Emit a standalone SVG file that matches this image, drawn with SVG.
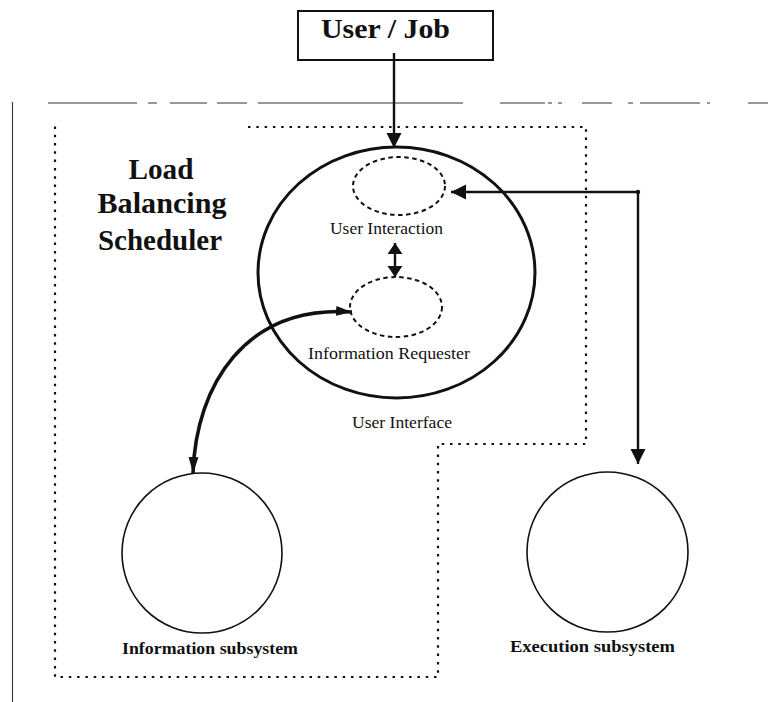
<svg xmlns="http://www.w3.org/2000/svg" width="768" height="702" viewBox="0 0 768 702">
<style>
  .bg { fill: #ffffff; }
  .serif { font-family: "Liberation Serif", "Times New Roman", serif; fill: #111; }
  .bold { font-weight: bold; }
  .thick { fill: none; stroke: #111; stroke-width: 3; }
  .thin { fill: none; stroke: #111; stroke-width: 1.6; }
  .dash-ell { fill: none; stroke: #111; stroke-width: 2; stroke-dasharray: 4.5 3.5; }
  .dotted { fill: none; stroke: #111; stroke-width: 2.2; stroke-dasharray: 2.5 5.8; }
  .rule { fill: none; stroke: #333; stroke-width: 1.1; }
  .conn { fill: none; stroke: #111; stroke-width: 2.4; }
  .curve { fill: none; stroke: #111; stroke-width: 3.6; }
</style>
<defs>
  <marker id="ah" markerUnits="userSpaceOnUse" markerWidth="16" markerHeight="16" refX="15" refY="7.5" orient="auto-start-reverse">
    <path d="M0,0 L15,7.5 L0,15 z" fill="#111"/>
  </marker>
  <marker id="ahs" markerUnits="userSpaceOnUse" markerWidth="16" markerHeight="16" refX="11" refY="7.5" orient="auto-start-reverse">
    <path d="M0,0 L11,7.5 L0,15 z" fill="#111"/>
  </marker>
  <marker id="ahc" markerUnits="userSpaceOnUse" markerWidth="18" markerHeight="12" refX="16" refY="5" orient="auto-start-reverse">
    <path d="M0,0 L16,5 L0,10 z" fill="#111"/>
  </marker>
</defs>
<rect class="bg" x="0" y="0" width="768" height="702"/>

<!-- page rules -->
<g id="frame">
  <line class="rule" x1="12.5" y1="102" x2="12.5" y2="702"/>
  <path class="rule" d="M48,103 H137 M148,103 H157 M170,103 H207 M217,103 H247 M258,103 H463 M500,103 H545 M548,103 H552 M558,103 H562 M582,103 H612 M628,103 H633 M640,103 H700 M707,103 H710 M748,103 H768"/>
</g>

<!-- scheduler boundary -->
<g id="scheduler-boundary">
  <path class="dotted" d="M248,127 H586 V444 H438 V677 H55 V125"/>
</g>

<g id="scheduler-label">
  <text class="serif bold" x="161" y="179" font-size="29" text-anchor="middle" textLength="65" lengthAdjust="spacingAndGlyphs">Load</text>
  <text class="serif bold" x="162" y="213" font-size="29" text-anchor="middle" textLength="129" lengthAdjust="spacingAndGlyphs">Balancing</text>
  <text class="serif bold" x="160" y="250" font-size="29" text-anchor="middle" textLength="124" lengthAdjust="spacingAndGlyphs">Scheduler</text>
</g>

<g id="user-job">
  <rect x="298" y="11" width="195" height="49" fill="#fff" stroke="#111" stroke-width="2"/>
  <text class="serif bold" x="385.5" y="38" font-size="28" text-anchor="middle" textLength="129" lengthAdjust="spacingAndGlyphs">User / Job</text>
</g>

<g id="user-interface">
  <ellipse class="thick" cx="396.5" cy="272.5" rx="138.5" ry="125.5"/>
  <text class="serif" x="402" y="428" font-size="17.5" text-anchor="middle" textLength="100" lengthAdjust="spacingAndGlyphs">User Interface</text>
</g>

<g id="user-interaction">
  <ellipse class="dash-ell" cx="399" cy="186" rx="46" ry="29"/>
  <text class="serif" x="386.5" y="234" font-size="17.5" text-anchor="middle" textLength="113" lengthAdjust="spacingAndGlyphs">User Interaction</text>
</g>

<g id="information-requester">
  <ellipse class="dash-ell" cx="396" cy="307" rx="46" ry="30"/>
  <text class="serif" x="389" y="359" font-size="17.5" text-anchor="middle" textLength="162" lengthAdjust="spacingAndGlyphs">Information Requester</text>
</g>

<g id="information-subsystem">
  <circle class="thin" cx="202" cy="553" r="80"/>
  <text class="serif bold" x="210" y="654" font-size="17.5" text-anchor="middle" textLength="176" lengthAdjust="spacingAndGlyphs">Information subsystem</text>
</g>

<g id="execution-subsystem">
  <ellipse class="thin" cx="607.5" cy="552" rx="80.5" ry="80"/>
  <text class="serif bold" x="592.5" y="652" font-size="17.5" text-anchor="middle" textLength="165" lengthAdjust="spacingAndGlyphs">Execution  subsystem</text>
</g>

<g id="connectors">
  <line class="conn" x1="394" y1="53" x2="394" y2="148" marker-end="url(#ah)"/>
  <line class="conn" x1="395" y1="243" x2="395" y2="277" marker-start="url(#ahs)" marker-end="url(#ahs)"/>
  <path class="conn" d="M638,192 H451" marker-end="url(#ah)"/>
  <path class="conn" d="M638,192 V464" marker-end="url(#ah)"/>
  <circle cx="638" cy="192" r="2.2" fill="#111"/>
  <path class="curve" d="M193,473 C196,385 245,305 352,312" marker-start="url(#ahc)" marker-end="url(#ahc)"/>
</g>
</svg>
